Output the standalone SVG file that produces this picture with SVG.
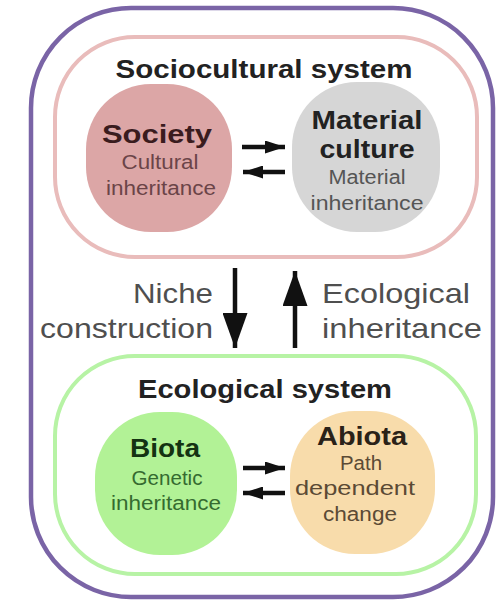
<svg xmlns="http://www.w3.org/2000/svg" width="500" height="604" viewBox="0 0 500 604">
<defs>
<marker id="ah" viewBox="0 0 20 13" refX="20" refY="6.5" markerWidth="20" markerHeight="13" orient="auto" markerUnits="userSpaceOnUse"><path d="M0,0 L20,6.5 L0,13 z" fill="#111"/></marker>
<marker id="bh" viewBox="0 0 35 25" refX="35" refY="12.5" markerWidth="35" markerHeight="25" orient="auto" markerUnits="userSpaceOnUse"><path d="M0,0 L35,12.5 L0,25 z" fill="#111"/></marker>
</defs>
<style>
text{font-family:"Liberation Sans",Arial,sans-serif;text-anchor:middle}
.t{font-weight:bold;font-size:25px;fill:#222}
.h{font-weight:bold;font-size:25px}
.s{font-size:20px}
.m{font-size:28px;fill:#4f4f4f}
.c{stroke:#111;stroke-width:4.5;fill:none}
.v{stroke:#111;stroke-width:4.5;fill:none}
</style>
<rect id="outer" x="31" y="8" width="462" height="589" rx="100" ry="100" fill="#fff" stroke="#7a64a6" stroke-width="4.5"/>
<g id="sociocultural">
<rect x="55" y="37" width="422" height="220" rx="80" ry="80" fill="#fff" stroke="#e9bcbb" stroke-width="4"/>
<text class="t" x="264" y="78" textLength="297" lengthAdjust="spacingAndGlyphs">Sociocultural system</text>
</g>
<g id="society">
<rect x="86" y="84" width="146" height="148" rx="65" ry="65" fill="#dca6a6"/>
<text class="h" x="157" y="143" fill="#3a1c1e" textLength="110" lengthAdjust="spacingAndGlyphs">Society</text>
<text class="s" x="160" y="169" fill="#6b4448" textLength="77" lengthAdjust="spacingAndGlyphs">Cultural</text>
<text class="s" x="161" y="195" fill="#6b4448" textLength="110" lengthAdjust="spacingAndGlyphs">inheritance</text>
</g>
<g id="material">
<rect x="292" y="82" width="148" height="150" rx="65" ry="65" fill="#d6d6d6"/>
<text class="h" x="367" y="129" fill="#222" textLength="111" lengthAdjust="spacingAndGlyphs">Material</text>
<text class="h" x="367" y="158" fill="#222" textLength="95" lengthAdjust="spacingAndGlyphs">culture</text>
<text class="s" x="367" y="184" fill="#555" textLength="77" lengthAdjust="spacingAndGlyphs">Material</text>
<text class="s" x="367" y="210" fill="#555" textLength="113" lengthAdjust="spacingAndGlyphs">inheritance</text>
</g>
<g id="ecological">
<rect x="55" y="356" width="421" height="218" rx="80" ry="80" fill="#fff" stroke="#b7f3a5" stroke-width="4"/>
<text class="t" x="265" y="398" textLength="254" lengthAdjust="spacingAndGlyphs">Ecological system</text>
</g>
<g id="biota">
<rect x="95" y="412" width="142" height="143" rx="65" ry="65" fill="#b2f296"/>
<text class="h" x="165" y="457" fill="#143312" textLength="70" lengthAdjust="spacingAndGlyphs">Biota</text>
<text class="s" x="167" y="485" fill="#356b30" textLength="71" lengthAdjust="spacingAndGlyphs">Genetic</text>
<text class="s" x="166" y="510" fill="#356b30" textLength="110" lengthAdjust="spacingAndGlyphs">inheritance</text>
</g>
<g id="abiota">
<rect x="290" y="411" width="145" height="143" rx="65" ry="65" fill="#f8dcab"/>
<text class="h" x="362" y="445" fill="#2a2218" textLength="90" lengthAdjust="spacingAndGlyphs">Abiota</text>
<text class="s" x="361" y="470" fill="#5b4a35" textLength="42" lengthAdjust="spacingAndGlyphs">Path</text>
<text class="s" x="355" y="495" fill="#5b4a35" textLength="120" lengthAdjust="spacingAndGlyphs">dependent</text>
<text class="s" x="360" y="521" fill="#5b4a35" textLength="74" lengthAdjust="spacingAndGlyphs">change</text>
</g>
<g id="labels">
<text class="m" x="213" y="303" style="text-anchor:end" textLength="80" lengthAdjust="spacingAndGlyphs">Niche</text>
<text class="m" x="213" y="338" style="text-anchor:end" textLength="173" lengthAdjust="spacingAndGlyphs">construction</text>
<text class="m" x="322" y="303" style="text-anchor:start" textLength="148" lengthAdjust="spacingAndGlyphs">Ecological</text>
<text class="m" x="322" y="338" style="text-anchor:start" textLength="160" lengthAdjust="spacingAndGlyphs">inheritance</text>
</g>
<g id="connectors">
<line class="c" x1="242" y1="147" x2="285" y2="147" marker-end="url(#ah)"/>
<line class="c" x1="285" y1="172" x2="243" y2="172" marker-end="url(#ah)"/>
<line class="c" x1="243" y1="468" x2="285" y2="468" marker-end="url(#ah)"/>
<line class="c" x1="285" y1="493" x2="243" y2="493" marker-end="url(#ah)"/>
<line class="v" x1="235" y1="268" x2="235" y2="348" marker-end="url(#bh)"/>
<line class="v" x1="295" y1="348" x2="295" y2="271" marker-end="url(#bh)"/>
</g>
</svg>
